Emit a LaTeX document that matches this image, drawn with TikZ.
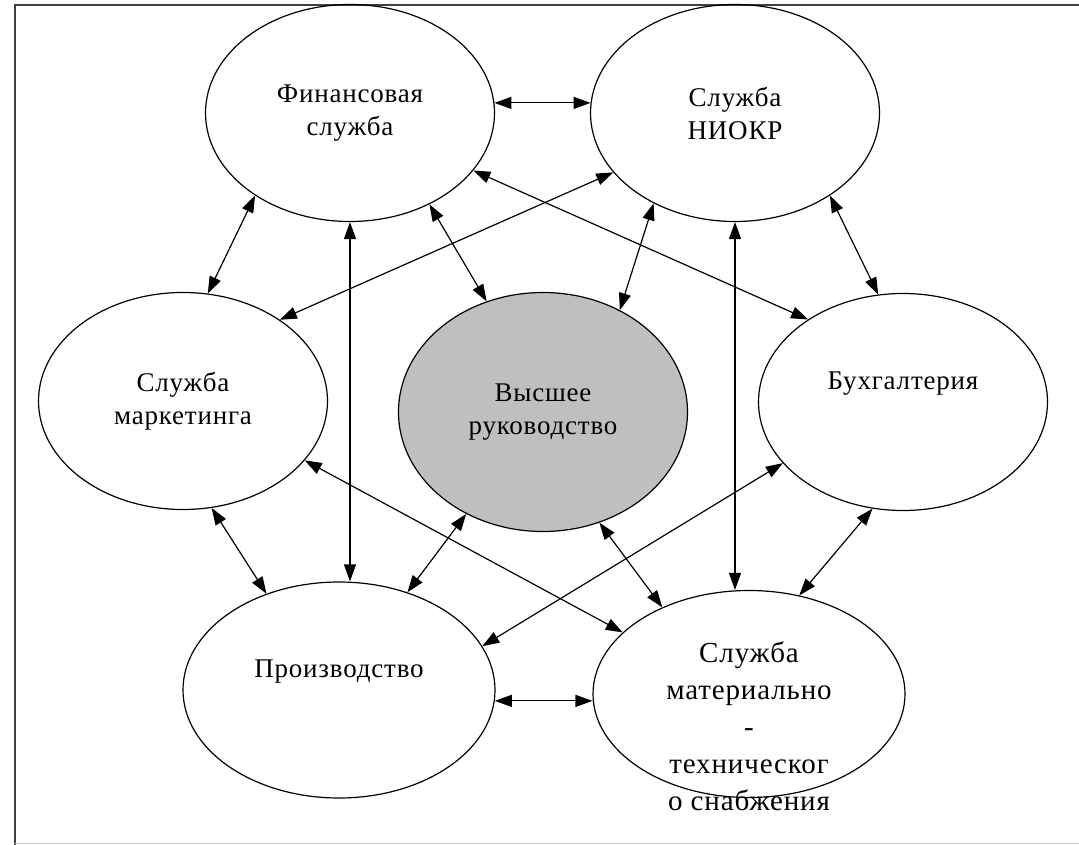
\documentclass[tikz,border=0pt]{standalone}
\usepackage{fontspec}
\setmainfont{Liberation Serif}[LetterSpace=3]
\usetikzlibrary{shapes.geometric,arrows.meta}

\begin{document}
\begin{tikzpicture}
  [x=1pt,y=-1pt,>={Triangle[length=17pt,width=12pt]},
   unit/.style={draw,ellipse,line width=1.2pt,inner sep=0pt,align=center,
     minimum width=289pt,minimum height=217pt,font=\fontsize{27pt}{33pt}\selectfont},
   link/.style={<->,line width=1.2pt},]

\useasboundingbox (0,0) rectangle (1079,845);
\draw[line width=2pt,black!75] (1079,5) -- (15,5) -- (15,845);
\draw[line width=1pt,black!20] (15,843) -- (1079,843);

\node[unit] (fin) at (350,113) {Финансовая\\служба};
\node[unit] (niokr) at (735,113) {Служба\\НИОКР};
\node[unit] (mark) at (183,401) {Служба\\маркетинга};
\node[unit,fill=black!25,minimum height=239pt] (top) at (543,412) {Высшее\\руководство};
\node[unit] (buh) at (903,402) {Бухгалтерия\\\strut};
\node[unit,minimum width=312pt,minimum height=216pt] (prod) at (339,690) {Производство\\\strut};
\node[unit,minimum width=312pt,minimum height=207pt,
  label={[name=mtstext,align=center,yshift=-32pt,font=\fontsize{29pt}{37pt}\selectfont]center:{Служба\\материально\\-\\техническог\\о снабжения}}]
  (mts) at (749,694) {};

\foreach \a/\b in {fin.4/niokr.176,fin.-139/mark.77,fin.-49/top.117,fin.-25/buh.139,
  niokr.206/mark.40,niokr.228/top.53,niokr.-41/buh.103,mark.-75/prod.127,
  mark.-26/mts.154,top.-127/prod.55,top.-63/mts.135,buh.-153/prod.17,buh.-106/mts.63}
\draw[link] (\a) -- (\b);
\draw[link] (fin.south) -- (fin.south |- prod.north);
\draw[link] (niokr.south) -- (niokr.south |- mts.north);
\draw[link] (prod.-4) -- (prod.-4 -| mts.west);

\end{tikzpicture}
\end{document}
